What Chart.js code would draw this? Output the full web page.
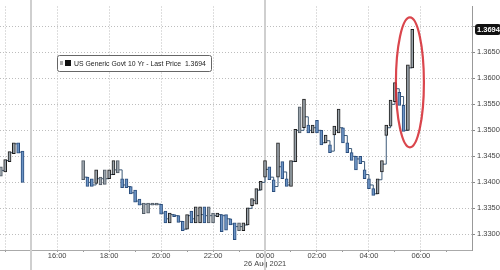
<!DOCTYPE html>
<html>
<head>
<meta charset="utf-8">
<script src="https://cdn.jsdelivr.net/npm/chart.js@4.4.0/dist/chart.umd.min.js"></script>
<style>
  html, body { margin: 0; padding: 0; background: #fff; }
  #wrap { width: 500px; height: 270px; }
</style>
</head>
<body>
<div id="wrap"><canvas id="chart" width="500" height="270"></canvas></div>
<script>
// 10-minute bars, 25-26 Aug 2021 (session break after 14:40)
const times = [
  '13:50','14:00','14:10','14:20','14:30','14:40','14:50',
  '17:00','17:10','17:20','17:30','17:40','17:50',
  '18:00','18:10','18:20','18:30','18:40','18:50',
  '19:00','19:10','19:20','19:30','19:40','19:50',
  '20:00','20:10','20:20','20:30','20:40','20:50',
  '21:00','21:10','21:20','21:30','21:40','21:50',
  '22:00','22:10','22:20','22:30','22:40','22:50',
  '23:00','23:10','23:20','23:30','23:40','23:50',
  '00:00','00:10','00:20','00:30','00:40','00:50',
  '01:00','01:10','01:20','01:30','01:40','01:50',
  '02:00','02:10','02:20','02:30','02:40','02:50',
  '03:00','03:10','03:20','03:30','03:40','03:50',
  '04:00','04:10','04:20','04:30','04:40','04:50',
  '05:00','05:10','05:20','05:30','05:40'
];
const closes = [
  1.3423, 1.3442, 1.3457, 1.3474, 1.3458, 1.3404, null,
  1.3410, 1.3400, 1.3395, 1.3407, 1.3407, 1.3407,
  1.3415, 1.3424, 1.3424, 1.3395, 1.3392, 1.3380,
  1.3364, 1.3358, 1.3358, 1.3358, 1.3358, 1.3358,
  1.3341, 1.3330, 1.3338, 1.3336, 1.3325, 1.3310,
  1.3336, 1.3330, 1.3336, 1.3338, 1.3336, 1.3336,
  1.3336, 1.3338, 1.3336, 1.3330, 1.3320, 1.3315,
  1.3315, 1.3318, 1.3350, 1.3365, 1.3385, 1.3400,
  1.3425, 1.3410, 1.3392, 1.3430, 1.3420, 1.3395,
  1.3440, 1.3500, 1.3500, 1.3526, 1.3500, 1.3505,
  1.3500, 1.3476, 1.3480, 1.3460, 1.3500, 1.3505,
  1.3490, 1.3465, 1.3450, 1.3445, 1.3440, 1.3415,
  1.3395, 1.3378, 1.3405, 1.3435, 1.3505, 1.3550,
  1.3580, 1.3565, 1.3500, 1.3620, 1.3694
];
const lows = [
  1.3412, 1.3420, 1.3440, 1.3455, 1.3456, 1.3400, null,
  1.3405, 1.3392, 1.3392, 1.3398, 1.3395, 1.3396,
  1.3407, 1.3415, 1.3418, 1.3390, 1.3390, 1.3378,
  1.3362, 1.3356, 1.3340, 1.3341, 1.3356, 1.3356,
  1.3339, 1.3322, 1.3322, 1.3334, 1.3323, 1.3307,
  1.3310, 1.3322, 1.3322, 1.3322, 1.3322, 1.3322,
  1.3322, 1.3334, 1.3305, 1.3308, 1.3318, 1.3290,
  1.3307, 1.3307, 1.3318, 1.3355, 1.3358, 1.3385,
  1.3410, 1.3405, 1.3382, 1.3410, 1.3407, 1.3392,
  1.3392, 1.3440, 1.3495, 1.3505, 1.3495, 1.3495,
  1.3495, 1.3472, 1.3476, 1.3457, 1.3491, 1.3495,
  1.3476, 1.3457, 1.3442, 1.3424, 1.3436, 1.3407,
  1.3388, 1.3375, 1.3378, 1.3420, 1.3490, 1.3508,
  1.3555, 1.3548, 1.3498, 1.3500, 1.3620
];
const highs = [
  1.3430, 1.3444, 1.3459, 1.3476, 1.3476, 1.3460, null,
  1.3442, 1.3410, 1.3407, 1.3424, 1.3410, 1.3424,
  1.3424, 1.3442, 1.3442, 1.3407, 1.3407, 1.3392,
  1.3385, 1.3368, 1.3360, 1.3360, 1.3360, 1.3360,
  1.3358, 1.3345, 1.3341, 1.3338, 1.3336, 1.3325,
  1.3338, 1.3345, 1.3353, 1.3353, 1.3353, 1.3353,
  1.3341, 1.3341, 1.3338, 1.3338, 1.3330, 1.3322,
  1.3322, 1.3322, 1.3351, 1.3369, 1.3388, 1.3402,
  1.3442, 1.3430, 1.3405, 1.3476, 1.3440, 1.3407,
  1.3442, 1.3502, 1.3545, 1.3560, 1.3510, 1.3510,
  1.3519, 1.3500, 1.3491, 1.3472, 1.3508, 1.3541,
  1.3505, 1.3476, 1.3457, 1.3450, 1.3450, 1.3424,
  1.3407, 1.3388, 1.3407, 1.3442, 1.3510, 1.3558,
  1.3592, 1.3573, 1.3548, 1.3626, 1.3694
];
const yTicks = [1.3300, 1.3350, 1.3400, 1.3450, 1.3500, 1.3550, 1.3600, 1.3650, 1.3700];
const hourTicks = ['14:00','15:00','16:00','17:00','18:00','19:00','20:00','21:00','22:00','23:00',
  '00:00','01:00','02:00','03:00','04:00','05:00','06:00','07:00'];
const lastPrice = 1.3694;
const seriesName = 'US Generic Govt 10 Yr - Last Price';
const dateLabel = '26 Aug 2021';
const sessionBreaks = ['15:00', '00:00'];

const FONT = '"Liberation Sans", Arial, sans-serif';

// minutes from 16:00 on 25 Aug
function toMin(t) {
  const [h, m] = t.split(':').map(Number);
  let v = (h - 16) * 60 + m;
  if (h < 12) v += 1440;
  return v;
}
function minLabel(v) {
  const h = ((16 * 60 + v) / 60) % 24;
  return String(h).padStart(2, '0') + ':00';
}

const linePts = times.map((t, i) => ({ x: toMin(t), y: closes[i] }));
const barPts = times.map((t, i) => ({ x: toMin(t), y: lows[i] === null ? null : [lows[i], highs[i]] }));

function dir(i) {
  const c = closes[i], p = closes[i - 1];
  if (c === null || p === null || p === undefined) return 0;
  return c > p ? 1 : (c < p ? -1 : 0);
}

const decor = {
  id: 'decor',
  beforeDatasetsDraw(chart) {
    const { ctx, scales: { x } } = chart;
    ctx.save();
    ctx.strokeStyle = '#cfcfcf';
    ctx.lineWidth = 2;
    sessionBreaks.forEach(t => {
      const px = Math.round(x.getPixelForValue(toMin(t)));
      ctx.beginPath();
      ctx.moveTo(px, 0);
      ctx.lineTo(px, 270);
      ctx.stroke();
    });
    ctx.restore();
  },
  afterDraw(chart) {
    const { ctx, scales: { x, y } } = chart;
    ctx.save();

    // legend box
    ctx.fillStyle = '#fff';
    ctx.strokeStyle = '#666';
    ctx.lineWidth = 1;
    ctx.beginPath();
    ctx.roundRect(57.5, 55.5, 154, 16, 2);
    ctx.fill();
    ctx.stroke();
    ctx.fillStyle = '#aaa';
    ctx.fillRect(60, 61, 3, 4);
    ctx.fillStyle = '#111';
    ctx.fillRect(65, 60, 6, 6);
    ctx.fillStyle = '#222';
    ctx.font = '8px ' + FONT;
    ctx.textBaseline = 'middle';
    ctx.textAlign = 'left';
    ctx.save();
    ctx.translate(74, 64);
    ctx.scale(0.86, 1);
    ctx.fillText(seriesName + '  ' + lastPrice.toFixed(4), 0, 0);
    ctx.restore();

    // last price tag
    const py = y.getPixelForValue(lastPrice);
    ctx.fillStyle = '#111';
    ctx.beginPath();
    ctx.roundRect(475, py - 5.5, 26, 11, 3);
    ctx.fill();
    ctx.fillStyle = '#fff';
    ctx.font = 'bold 7.5px ' + FONT;
    ctx.fillText(lastPrice.toFixed(4), 477, py + 0.5);

    // red ellipse around the final spike
    const n = times.length;
    const x0 = x.getPixelForValue(toMin(times[n - 3]));
    const x1 = x.getPixelForValue(toMin(times[n - 1]));
    const top = y.getPixelForValue(Math.max(...highs.slice(n - 3))) - 12;
    const bot = y.getPixelForValue(Math.min(...lows.slice(n - 3))) + 16;
    ctx.strokeStyle = 'rgba(212, 38, 46, 0.85)';
    ctx.lineWidth = 2.2;
    ctx.beginPath();
    ctx.ellipse((x0 + x1) / 2 + 2, (top + bot) / 2, 14, (bot - top) / 2, 0, 0, Math.PI * 2);
    ctx.stroke();
    ctx.restore();
  }
};

new Chart(document.getElementById('chart'), {
  type: 'bar',
  data: {
    datasets: [
      {
        type: 'line',
        data: linePts,
        stepped: true,
        borderColor: '#3d5a78',
        borderWidth: 1,
        pointRadius: 0,
        spanGaps: false,
        order: 2
      },
      {
        type: 'bar',
        data: barPts,
        barThickness: 3,
        borderWidth: 1,
        borderSkipped: false,
        backgroundColor: ctx => dir(ctx.dataIndex) < 0 ? '#6b93c4' : '#9aa3ab',
        borderColor: ctx => dir(ctx.dataIndex) < 0 ? '#2a4d7c' : (dir(ctx.dataIndex) > 0 ? '#1c1c1c' : '#505a64'),
        order: 1
      }
    ]
  },
  options: {
    responsive: false,
    animation: false,
    layout: { padding: 0 },
    plugins: { legend: { display: false }, tooltip: { enabled: false } },
    scales: {
      x: {
        type: 'linear',
        min: -132,
        max: 958,
        offset: false,
        afterBuildTicks: s => { s.ticks = hourTicks.map(t => ({ value: toMin(t) })); },
        afterFit: s => { s.height = 20; },
        grid: {
          offset: false,
          color: c => (c.tick && c.tick.value % 120 === 0 && c.tick.value !== 480) ? '#bdbdbd' : 'rgba(0,0,0,0)',
          lineWidth: 1,
          drawTicks: true,
          tickLength: 2,
          tickColor: '#999'
        },
        border: { display: true, color: '#aaa', dash: [1, 2] },
        ticks: {
          autoSkip: false,
          maxRotation: 0,
          padding: 0,
          color: '#444',
          font: { family: FONT, size: 7.5, lineHeight: 1.05 },
          callback: v => {
            if (v < 0 || v > 840 || v % 120 !== 0) return '';
            return v === 480 ? [minLabel(v), dateLabel] : minLabel(v);
          }
        }
      },
      y: {
        type: 'linear',
        position: 'right',
        min: 1.3270,
        max: 1.3738,
        afterBuildTicks: s => { s.ticks = yTicks.map(v => ({ value: v })); },
        afterFit: s => { s.width = 28; },
        grid: {
          color: '#bdbdbd',
          lineWidth: 1,
          drawTicks: true,
          tickLength: 3,
          tickColor: '#888'
        },
        border: { display: true, color: '#999', dash: [1, 2] },
        ticks: {
          padding: 2,
          color: '#444',
          font: { family: FONT, size: 7.5 },
          callback: v => Math.abs(v - lastPrice) < 0.001 ? '' : v.toFixed(4)
        }
      }
    }
  },
  plugins: [decor]
});
</script>
</body>
</html>
